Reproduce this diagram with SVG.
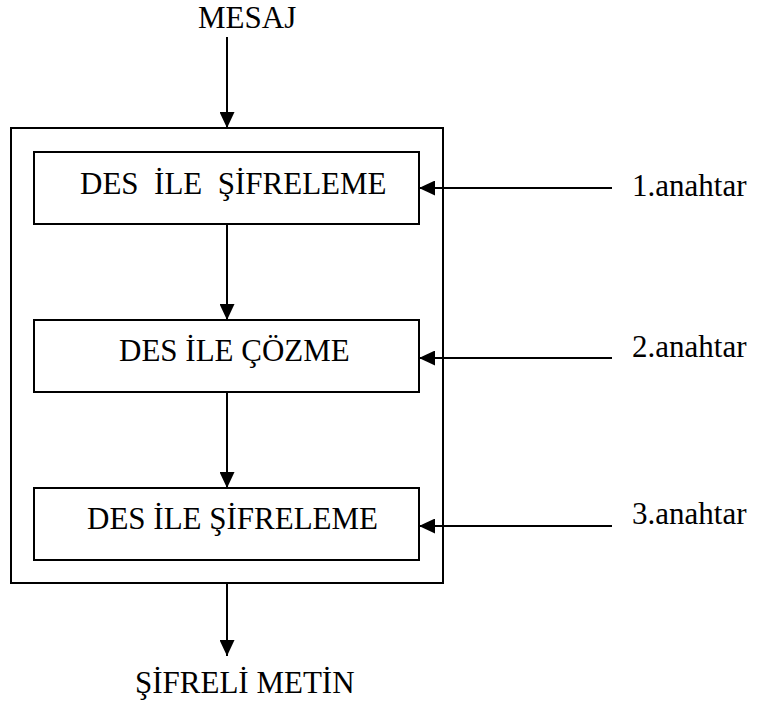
<svg xmlns="http://www.w3.org/2000/svg" width="757" height="702" viewBox="0 0 757 702">
  <style>
    .box { fill: #ffffff; stroke: #000000; stroke-width: 2; }
    .frame { fill: none; stroke: #000000; stroke-width: 2; }
    .wire { fill: none; stroke: #000000; stroke-width: 2; marker-end: url(#arrow); }
    text { font-family: 'Liberation Serif', 'Times New Roman', serif; font-size: 31px; fill: #000000; }
  </style>
  <defs>
    <marker id="arrow" markerUnits="userSpaceOnUse" markerWidth="16" markerHeight="15" refX="16" refY="7.5" orient="auto">
      <path d="M0,0 L16,7.5 L0,15 Z" fill="#000000"/>
    </marker>
  </defs>

  <!-- triple-DES enclosure -->
  <g id="enclosure">
    <rect class="frame" x="11" y="128" width="432" height="455"/>
  </g>

  <g id="input">
    <text x="198" y="28">MESAJ</text>
  </g>

  <g id="stage1">
    <rect class="box" x="34" y="152" width="385" height="72"/>
    <text x="80" y="194" xml:space="preserve">DES  İLE  ŞİFRELEME</text>
  </g>

  <g id="stage2">
    <rect class="box" x="34" y="320" width="385" height="72"/>
    <text x="119" y="361">DES İLE ÇÖZME</text>
  </g>

  <g id="stage3">
    <rect class="box" x="34" y="488" width="385" height="72"/>
    <text x="87" y="529">DES İLE ŞİFRELEME</text>
  </g>

  <g id="key1"><text x="632" y="196">1.anahtar</text></g>
  <g id="key2"><text x="632" y="357">2.anahtar</text></g>
  <g id="key3"><text x="632" y="524">3.anahtar</text></g>

  <g id="output">
    <text x="135" y="693">ŞİFRELİ METİN</text>
  </g>

  <g id="connectors">
    <line class="wire" x1="227" y1="37" x2="227" y2="128"/>
    <line class="wire" x1="227" y1="224" x2="227" y2="320"/>
    <line class="wire" x1="227" y1="392" x2="227" y2="488"/>
    <line class="wire" x1="227" y1="583" x2="227" y2="656"/>
    <line class="wire" x1="612" y1="188" x2="419" y2="188"/>
    <line class="wire" x1="612" y1="358" x2="419" y2="358"/>
    <line class="wire" x1="612" y1="526" x2="419" y2="526"/>
  </g>
</svg>
